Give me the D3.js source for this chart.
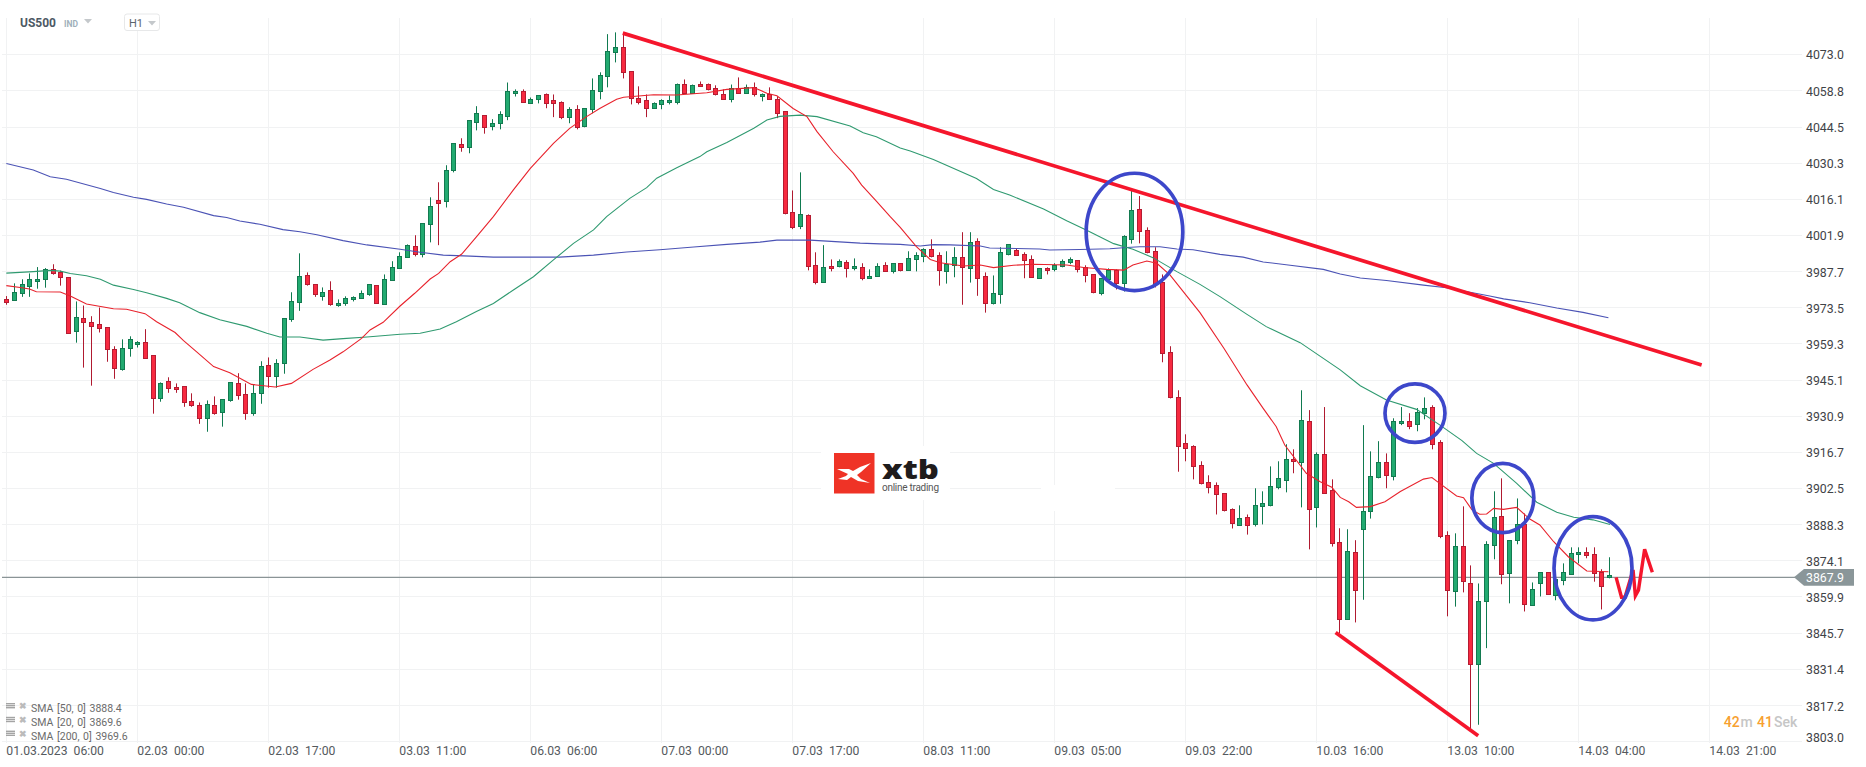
<!DOCTYPE html>
<html>
<head>
<meta charset="utf-8">
<style>
html,body{margin:0;padding:0;background:#fff;overflow:hidden}
svg{display:block}
text{font-family:Roboto,sans-serif}
</style>
<script src="https://cdn.jsdelivr.net/npm/d3@7/dist/d3.min.js"></script>
</head>
<body>
<svg id="chart" width="1866" height="767"></svg>
<script>
const priceTicks = [4073.0,4058.8,4044.5,4030.3,4016.1,4001.9,3987.7,3973.5,3959.3,3945.1,3930.9,3916.7,3902.5,3888.3,3874.1,3859.9,3845.7,3831.4,3817.2,3803.0];
const timeTicks = [0,17,34,51,68,85,102,119,136,153,170,187,204,221];
const timeLabels = ["01.03.2023  06:00","02.03  00:00","02.03  17:00","03.03  11:00","06.03  06:00","07.03  00:00","07.03  17:00","08.03  11:00","09.03  05:00","09.03  22:00","10.03  16:00","13.03  10:00","14.03  04:00","14.03  21:00"];
const symbolName = "US500";
const symbolClass = "IND";
const timeframe = "H1";
const lastPrice = 3867.9;
const smaLabels = ["SMA [50, 0] 3888.4","SMA [20, 0] 3869.6","SMA [200, 0] 3969.6"];

const opens = [
3976.7,3976.2,3979.2,3982.0,3983.9,3984.5,3988.4,3987.2,3985.2,3964.0,
3969.2,3967.6,3966.8,3965.7,3957.0,3949.0,3957.4,3959.0,3959.8,3954.6,
3937.7,3944.4,3942.0,3942.4,3936.5,3935.3,3930.1,3935.3,3932.1,3936.8,
3943.6,3939.3,3931.7,3939.5,3950.7,3946.2,3951.5,3968.6,3975.4,3986.0,
3982.5,3978.0,3980.1,3974.1,3974.9,3976.5,3977.0,3978.4,3982.1,3974.9,
3984.1,3988.8,3993.1,3997.5,3994.3,4006.1,4015.5,4015.1,4027.2,4037.5,
4036.4,4046.2,4048.9,4044.6,4045.8,4048.6,4057.5,4058.3,4054.0,4055.2,
4057.1,4054.8,4054.0,4048.2,4051.3,4044.6,4051.3,4058.3,4064.2,4073.7,
4075.6,4066.2,4055.9,4054.8,4051.7,4053.2,4054.0,4054.4,4061.4,4057.9,
4061.4,4061.4,4059.5,4057.1,4055.2,4059.5,4057.5,4059.9,4056.3,4057.1,
4055.5,4050.5,4010.9,4005.3,4009.7,3990.0,3983.3,3989.6,3989.6,3991.2,
3988.8,3989.2,3984.8,3985.6,3990.0,3987.6,3990.8,3988.0,3992.3,3993.5,
3996.3,3993.9,3987.6,3990.0,3993.1,3988.8,3999.4,3985.6,3975.0,3978.6,
3994.3,3995.9,3994.3,3992.3,3984.9,3988.8,3988.4,3989.6,3991.2,3991.9,
3989.2,3986.4,3979.0,3984.5,3988.0,3982.9,4000.6,4012.3,4003.8,3995.5,
3983.3,3955.8,3938.1,3920.1,3918.9,3911.4,3904.7,3903.5,3900.4,3894.1,
3888.2,3891.3,3888.2,3895.3,3895.7,3902.7,3905.5,3913.8,3913.0,3929.0,
3894.9,3915.8,3901.6,3881.2,3850.9,3877.3,3886.3,3893.3,3906.7,3912.6,
3907.1,3928.0,3929.0,3927.6,3931.8,3934.2,3920.5,3884.0,3861.9,3879.6,
3865.0,3833.6,3858.0,3880.4,3891.7,3869.0,3882.0,3888.2,3856.4,3865.1,
3869.4,3860.3,3866.2,3868.6,3876.5,3877.3,3876.5,3869.4,3867.4];
const closes = [
3975.7,3979.4,3982.8,3984.8,3984.8,3988.4,3986.7,3985.2,3963.3,3969.6,
3967.5,3966.1,3965.1,3957.0,3949.4,3957.4,3960.9,3959.8,3953.7,3937.7,
3943.6,3941.6,3941.2,3936.1,3934.8,3930.1,3935.7,3932.1,3937.3,3944.0,
3938.8,3931.7,3939.7,3950.3,3946.2,3951.5,3969.2,3975.8,3985.6,3982.4,
3978.4,3979.7,3974.5,3975.0,3977.0,3977.4,3979.0,3982.5,3974.9,3984.8,
3989.2,3993.5,3997.9,3994.3,4006.5,4013.1,4014.3,4027.3,4037.9,4036.4,
4047.0,4049.7,4044.2,4045.8,4049.3,4058.3,4058.3,4054.0,4055.5,4056.7,
4053.6,4053.6,4048.2,4051.3,4044.2,4051.7,4058.7,4064.6,4074.1,4075.6,
4065.8,4055.5,4054.4,4051.7,4053.6,4054.8,4054.8,4061.4,4057.9,4061.0,
4060.7,4059.5,4057.1,4055.2,4059.5,4057.5,4059.9,4057.1,4057.1,4055.2,
4050.1,4010.4,4004.9,4010.0,3989.6,3983.2,3989.2,3988.8,3991.6,3988.8,
3989.6,3984.8,3985.6,3989.6,3987.6,3990.8,3988.0,3992.7,3993.9,3996.3,
3993.5,3988.0,3990.4,3993.1,3989.2,3999.0,3984.9,3975.0,3979.0,3995.1,
3998.2,3993.9,3991.9,3985.3,3988.8,3988.0,3990.0,3991.6,3992.3,3988.4,
3986.0,3979.4,3984.9,3988.0,3982.9,4001.4,4011.9,4003.8,3995.1,3982.5,
3955.4,3938.1,3918.9,3918.1,3911.0,3904.3,3902.8,3900.0,3893.7,3888.6,
3890.9,3888.2,3895.7,3896.5,3903.1,3906.3,3913.8,3913.0,3929.4,3894.5,
3915.8,3900.4,3880.8,3850.9,3877.7,3862.3,3893.3,3907.1,3912.6,3907.5,
3928.7,3928.7,3927.2,3932.2,3933.8,3919.7,3883.6,3862.3,3879.6,3865.8,
3833.2,3858.3,3880.4,3891.3,3869.0,3882.0,3888.2,3856.8,3862.7,3869.4,
3860.7,3866.6,3869.4,3876.9,3877.3,3876.1,3869.0,3863.9,3868.2];
const highs = [
3977.9,3982.9,3984.5,3986.8,3989.3,3988.9,3990.4,3987.9,3985.2,3975.8,
3974.2,3970.0,3973.4,3965.7,3958.2,3960.9,3962.1,3960.2,3964.9,3954.6,
3944.0,3946.0,3943.6,3942.4,3939.7,3936.1,3936.9,3938.5,3937.3,3944.0,
3947.6,3943.6,3943.2,3952.3,3953.8,3953.1,3969.2,3979.4,3994.7,3987.2,
3982.5,3981.3,3983.7,3976.6,3977.8,3977.8,3980.1,3982.5,3982.1,3986.4,
3991.6,3995.1,3998.2,4001.8,4006.5,4016.7,4022.6,4029.3,4037.9,4039.9,
4047.0,4052.5,4048.9,4047.4,4050.5,4061.8,4059.1,4059.1,4055.9,4056.7,
4057.5,4057.1,4054.4,4052.1,4052.9,4051.7,4063.4,4065.8,4080.8,4081.5,
4081.1,4066.2,4060.3,4057.1,4054.0,4055.2,4056.7,4061.4,4063.0,4061.0,
4062.2,4061.4,4060.7,4059.1,4061.0,4063.8,4061.0,4061.8,4057.5,4059.9,
4056.3,4050.5,4019.4,4026.5,4010.0,3995.1,3997.9,3992.3,3992.3,3992.0,
3992.7,3990.8,3988.4,3990.8,3991.2,3990.8,3990.8,3995.5,3995.1,3996.7,
4000.2,3995.1,3995.5,3997.1,4003.0,4003.0,4000.6,3987.2,3986.0,3997.1,
3998.2,3996.7,3995.1,3993.9,3988.8,3989.2,3990.8,3992.3,3993.1,3991.9,
3990.0,3986.4,3984.9,3988.8,3988.4,4001.8,4019.5,4017.2,4004.9,3997.1,
3986.4,3958.2,3940.9,3923.6,3919.3,3913.0,3907.5,3904.7,3900.4,3894.5,
3895.7,3892.1,3902.4,3901.2,3911.0,3913.0,3919.7,3917.7,3940.9,3933.1,
3916.5,3934.3,3905.9,3886.7,3886.3,3882.0,3927.2,3916.9,3920.9,3916.1,
3929.9,3934.3,3931.9,3933.9,3938.1,3935.0,3921.3,3885.5,3884.7,3895.3,
3872.1,3865.0,3881.6,3901.2,3906.3,3882.0,3898.4,3892.5,3865.4,3869.4,
3869.4,3866.6,3872.9,3879.2,3879.2,3879.2,3879.2,3870.6,3875.3];
const lows = [
3974.5,3976.2,3977.6,3977.6,3980.8,3981.2,3986.3,3982.0,3963.3,3959.6,
3949.8,3942.7,3963.6,3952.1,3945.4,3948.6,3954.1,3957.7,3953.7,3931.7,
3936.4,3939.9,3939.9,3934.4,3934.4,3927.7,3924.6,3931.3,3926.6,3936.4,
3937.2,3929.3,3930.9,3935.6,3941.9,3941.9,3947.4,3967.8,3972.1,3982.0,
3977.6,3976.1,3974.1,3973.7,3974.1,3975.8,3976.9,3978.0,3974.9,3974.9,
3984.1,3988.8,3993.1,3993.5,3993.1,3999.0,3997.9,4012.7,4026.5,4034.6,
4034.0,4043.0,4041.7,4043.0,4043.4,4047.0,4056.3,4054.0,4053.6,4053.6,
4051.7,4048.2,4047.4,4045.8,4043.4,4044.2,4049.7,4055.2,4059.9,4069.7,
4063.4,4053.2,4053.2,4048.2,4051.7,4051.3,4053.2,4053.2,4057.6,4057.6,
4060.3,4058.7,4056.7,4055.2,4054.0,4057.5,4057.5,4056.3,4054.4,4055.2,
4047.8,4010.0,4004.2,4004.2,3988.0,3982.5,3983.3,3987.6,3989.2,3985.2,
3988.0,3984.1,3984.8,3985.6,3987.6,3986.8,3987.6,3988.0,3987.6,3991.2,
3993.1,3982.0,3982.8,3985.3,3974.5,3983.2,3978.0,3971.4,3974.6,3974.9,
3993.9,3993.9,3984.9,3985.3,3984.9,3986.4,3987.6,3989.2,3990.4,3987.2,
3983.3,3979.0,3978.2,3983.9,3980.5,3979.7,3998.5,3998.6,3994.7,3981.3,
3951.9,3937.7,3908.9,3913.0,3905.9,3903.9,3900.4,3892.1,3893.3,3886.6,
3888.2,3884.2,3887.4,3888.2,3895.3,3902.0,3900.8,3908.3,3894.9,3878.4,
3887.0,3900.4,3879.5,3845.5,3850.9,3849.7,3858.6,3890.5,3906.3,3902.4,
3905.5,3927.2,3925.6,3924.8,3929.5,3917.7,3882.8,3852.1,3855.9,3861.5,
3807.1,3809.5,3839.6,3874.5,3864.7,3857.2,3880.4,3854.0,3856.4,3859.9,
3860.7,3858.4,3864.3,3868.6,3872.9,3874.9,3865.7,3854.8,3867.0];

const sma200Bars = [0,3.5,5.7,7.8,12.2,13.9,16.5,18.2,20.8,23.0,26.9,28.6,30.3,32.9,35.9,38.1,40.3,43.7,46.8,51.1,53.7,56.7,60.2,63.2,71.8,76.2,80.5,84.8,89.2,93.5,97.8,100.0,104.3,106.5,110.8,113.4,116.0,118.6,120.3,122.5,126.4,127.6,131.1,134.1,135.4,139.3,143.2,145.4,147.1,149.7,151.9,154.0,157.5,160.5,163.1,166.6,170.9,173.1,175.7,179.1,183.9,186.9,192.5,194.3,197.7,201.2,204.6,207.9];
const sma200Values = [4030.0,4027.4,4024.8,4023.8,4020.2,4018.6,4016.7,4015.9,4014.1,4012.8,4009.5,4008.8,4007.4,4006.1,4004.0,4003.2,4002.0,3999.7,3998.0,3996.3,3995.1,3994.0,3993.6,3993.2,3993.2,3994.0,3995.2,3996.1,3997.2,3998.2,3999.1,3999.9,3999.9,3999.5,3998.7,3998.4,3998.2,3997.6,3998.1,3998.0,3997.6,3996.8,3996.6,3996.4,3996.0,3996.2,3996.5,3997.0,3997.3,3997.3,3996.4,3996.1,3994.3,3993.2,3991.3,3990.0,3988.4,3986.6,3985.0,3984.0,3982.2,3981.2,3977.9,3976.8,3975.3,3973.2,3971.5,3969.4];

const sma50Bars = [0,3.5,5.7,7.0,8.3,10.4,12.2,13.9,16.5,18.2,20.8,22.5,25.1,27.7,31.2,33.8,35.5,38.1,41.1,43.7,46.8,51.1,53.7,56.3,58.4,61.0,63.2,65.8,68.4,71.0,73.6,76.2,77.9,80.9,83.1,84.4,87.0,90.0,90.9,93.5,97.0,98.7,100.4,103.0,105.2,109.5,111.2,112.9,116.0,117.3,120.3,125.9,128.1,130.2,134.6,137.6,140.2,143.7,146.2,148.8,151.9,154.9,157.5,161.0,163.5,167.9,173.1,175.7,179.1,183.0,186.0,188.9,190.8,193.0,196.0,198.6,201.2,203.4,205.9,208.1];
const sma50Values = [3986.9,3987.5,3988.0,3987.7,3986.8,3985.9,3984.5,3982.2,3980.5,3979.2,3977.0,3975.3,3971.4,3968.6,3966.0,3963.3,3961.8,3961.8,3960.6,3961.2,3961.8,3962.9,3963.3,3965.0,3967.8,3971.8,3975.0,3980.3,3985.5,3992.1,3998.6,4003.9,4009.1,4016.3,4020.5,4024.2,4028.3,4032.7,4034.6,4038.2,4043.8,4047.1,4048.5,4049.0,4048.4,4044.7,4042.1,4040.5,4036.1,4034.9,4031.6,4024.1,4019.8,4017.6,4012.1,4007.5,4003.8,3998.5,3996.3,3993.0,3987.5,3982.5,3977.7,3970.7,3965.9,3959.6,3948.9,3942.7,3937.1,3933.4,3927.3,3921.1,3916.1,3912.2,3904.3,3896.9,3893.0,3891.0,3890.0,3888.2];

const sma20Bars = [0,1.8,3.0,3.9,7.0,8.3,10.4,13.9,15.6,18.0,19.5,21.9,23.0,24.7,26.9,29.0,31.8,34.9,37.0,39.8,42.0,43.7,46.1,47.2,48.9,51.1,53.0,55.0,56.1,57.6,59.1,61.0,63.2,65.8,68.0,71.0,73.1,75.3,77.0,79.2,80.1,84.0,87.0,90.9,93.5,97.0,98.7,100.0,102.1,103.9,105.2,107.3,109.9,111.0,112.9,114.7,116.0,118.1,119.9,121.2,124.2,126.4,128.1,130.7,133.3,137.6,139.8,142.8,145.0,146.2,148.0,149.3,151.0,154.9,158.0,161.0,163.1,164.8,165.9,168.7,170.5,172.0,173.1,174.2,175.2,177.0,178.9,180.9,183.9,185.0,186.0,188.2,189.1,190.2,191.2,192.1,193.0,194.3,196.0,197.7,199.0,200.8,202.7,205.1,207.9];
const sma20Values = [3982.0,3981.3,3980.7,3979.6,3979.5,3977.9,3974.8,3972.9,3972.7,3971.0,3967.8,3963.6,3960.4,3956.0,3950.2,3947.8,3943.2,3942.2,3943.6,3949.1,3952.8,3956.0,3961.3,3964.6,3967.6,3974.0,3979.0,3984.6,3986.8,3991.4,3994.4,4001.2,4009.1,4019.6,4028.1,4037.9,4043.8,4048.4,4051.6,4055.2,4056.0,4057.0,4056.9,4057.8,4059.1,4059.8,4057.6,4056.6,4051.6,4048.4,4042.5,4034.6,4026.1,4021.5,4015.2,4009.1,4004.9,3997.3,3992.3,3991.0,3989.7,3990.1,3989.1,3990.0,3990.4,3990.1,3989.1,3988.4,3988.1,3990.1,3991.7,3990.8,3986.2,3971.4,3957.4,3943.0,3933.8,3926.6,3919.4,3908.3,3905.0,3902.8,3898.8,3897.1,3894.9,3895.2,3897.1,3901.1,3906.0,3906.6,3904.3,3899.4,3898.7,3893.9,3892.2,3892.3,3894.5,3894.1,3894.9,3890.3,3888.0,3881.4,3875.5,3869.9,3869.6];

const trendUpperBars = [80.0,220.0];
const trendUpperPrices = [4081.2,3950.8];
const trendLowerBars = [172.5,191.0];
const trendLowerPrices = [3845.7,3805.2];
const scribbleBars = [208.9,209.6,210.05,211.1,211.4,211.8,212.6,213.6];
const scribblePrices = [3867.4,3859.6,3859.6,3870.3,3860.2,3862.4,3878.4,3869.4];
const circleBars = [146.4,182.8,194.2,205.9];
const circlePrices = [4003.1,3931.9,3898.6,3871.0];
const circleBarRadii = [6.27,3.89,4.02,5.06];
const circlePriceRadii = [23.06,11.5,13.6,20.3];

const svg = d3.select("#chart");
const X0 = 6.33, BAR = 7.706;
const x = d3.scaleLinear().domain([0,221]).range([X0, X0+221*BAR]);
const y = d3.scaleLinear().domain([4073,3803]).range([54,741.3]);
const snap = v => Math.round(v)+0.5;
const gridColor = "#f1f2f3";

/* grid */
const grid = svg.append("g").attr("stroke",gridColor).attr("stroke-width",1);
grid.selectAll("line.h").data(priceTicks).join("line").attr("class","h")
  .attr("x1",2).attr("x2",1802).attr("y1",d=>snap(y(d))).attr("y2",d=>snap(y(d)));
grid.selectAll("line.v").data(timeTicks).join("line").attr("class","v")
  .attr("y1",18).attr("y2",743).attr("x1",d=>snap(x(d))).attr("x2",d=>snap(x(d)));
svg.append("rect").attr("x",821).attr("y",446).attr("width",129).attr("height",54).attr("fill","#fff");
svg.append("rect").attr("x",1041).attr("y",485).attr("width",74).attr("height",26).attr("fill","#fff");

/* logo */
const logo = svg.append("g");
logo.append("rect").attr("x",834).attr("y",453).attr("width",40.5).attr("height",40.5).attr("fill","#ef3326");
logo.append("path").attr("fill","#fff")
  .attr("d","M837 469 L849 469 L853 471 L860 467 L871 463 L861 472 L857 475 L861 479 L870 483 L858 481 L851 477 L847 480 L838 479 L846 476 L848 474 Z");
logo.append("text").attr("x",882).attr("y",479).attr("font-size",27).attr("font-weight",800)
  .attr("textLength",57).attr("lengthAdjust","spacingAndGlyphs")
  .style("font-family","'Open Sans',sans-serif").attr("fill","#1f1c1c").text("xtb");
logo.append("text").attr("x",882).attr("y",491).attr("font-size",10).attr("textLength",57)
  .attr("fill","#555").text("online trading");

/* last price line */
svg.append("line").attr("x1",2).attr("x2",1795).attr("y1",y(lastPrice)+1.2).attr("y2",y(lastPrice)+1.2)
  .attr("stroke","#8a9496").attr("stroke-width",1.2);

/* candles */
const idx = d3.range(opens.length);
const up = i => closes[i] >= opens[i];
const candle = svg.append("g");
candle.selectAll("line").data(idx).join("line")
  .attr("x1",i=>snap(x(i))).attr("x2",i=>snap(x(i)))
  .attr("y1",i=>y(highs[i])).attr("y2",i=>y(lows[i]))
  .attr("stroke",i=>up(i)?"#0f7a50":"#b01a30").attr("stroke-width",1);
candle.selectAll("rect").data(idx).join("rect")
  .attr("x",i=>snap(x(i))-2).attr("width",4)
  .attr("y",i=>Math.round(y(Math.max(opens[i],closes[i])))+0.5)
  .attr("height",i=>Math.max(1,Math.round(Math.abs(y(opens[i])-y(closes[i])))))
  .attr("fill",i=>up(i)?"#22aa70":"#f72a40")
  .attr("stroke",i=>up(i)?"#137a50":"#b51c32").attr("stroke-width",1);

/* moving averages */
const line = d3.line().x(d=>x(d[0])).y(d=>y(d[1]));
[[sma200Bars,sma200Values,"#4b53b5"],[sma50Bars,sma50Values,"#2f9a70"],[sma20Bars,sma20Values,"#e8222c"]]
.forEach(([b,v,c])=>{
  svg.append("path").attr("fill","none").attr("stroke",c).attr("stroke-width",1.1)
    .attr("d",line(d3.zip(b,v)));
});

/* drawn annotations */
[[trendUpperBars,trendUpperPrices],[trendLowerBars,trendLowerPrices]].forEach(([b,v])=>{
  svg.append("path").attr("fill","none").attr("stroke","#f5162c").attr("stroke-width",3.7)
    .attr("d",line(d3.zip(b,v)));
});
svg.append("path").attr("fill","none").attr("stroke","#f5162c").attr("stroke-width",3.4)
  .attr("stroke-linejoin","miter")
  .attr("d",line(d3.zip(scribbleBars,scribblePrices)));
svg.selectAll("ellipse").data(circleBars).join("ellipse")
  .attr("cx",d=>x(d)).attr("cy",(d,i)=>y(circlePrices[i]))
  .attr("rx",(d,i)=>x(d+circleBarRadii[i])-x(d))
  .attr("ry",(d,i)=>y(circlePrices[i]-circlePriceRadii[i])-y(circlePrices[i]))
  .attr("fill","none").attr("stroke","#3d47ca").attr("stroke-width",3.7);

/* price labels */
svg.selectAll("text.py").data(priceTicks).join("text").attr("class","py")
  .attr("x",1806).attr("y",(d,i)=> i===priceTicks.length-1 ? y(d)+0.8 : y(d)+5.4)
  .attr("font-size",12.3).attr("fill","#3f4347").text(d=>d.toFixed(1));

/* time labels */
svg.selectAll("text.tx").data(timeTicks).join("text").attr("class","tx")
  .attr("x",d=>x(d)).attr("y",755).attr("font-size",12.2).attr("fill","#555a5e")
  .style("white-space","pre").text((d,i)=>timeLabels[i]);

/* last price tag */
svg.append("path").attr("fill","#8a9699").attr("d","M1794 577.3 L1804 569 L1854 569 L1854 585.7 L1804 585.7 Z");
svg.append("text").attr("x",1806).attr("y",582).attr("font-size",12.3).attr("fill","#fff").text(lastPrice.toFixed(1));

/* legend */
smaLabels.forEach((t,i)=>{
  const cy = 708+i*13.8;
  const g = svg.append("g");
  [-4,-2,0].forEach(o=>g.append("rect").attr("x",6).attr("y",cy+o-1).attr("width",9).attr("height",1.4).attr("fill","#a4a4a4"));
  g.append("text").attr("x",19).attr("y",cy+1).attr("font-size",9).attr("fill","#bbb").attr("font-weight",700).text("✖");
  g.append("text").attr("x",31).attr("y",cy+4).attr("font-size",10.5).attr("fill","#6b6b6b").style("word-spacing","1px").text(t);
});

/* header */
svg.append("text").attr("x",20).attr("y",27).attr("font-size",12).attr("font-weight",700).attr("fill","#4d5964").text(symbolName);
svg.append("text").attr("x",64).attr("y",27).attr("font-size",8.5).attr("font-weight",700).attr("fill","#9fb0ba").text(symbolClass);
svg.append("path").attr("fill","#c4c8cb").attr("d","M84 19 L92 19 L88 23.5 Z");
svg.append("rect").attr("x",124.5).attr("y",14).attr("width",35).attr("height",16.5).attr("rx",2.5).attr("fill","#fff").attr("stroke","#e7e8e9");
svg.append("text").attr("x",129).attr("y",27).attr("font-size",11).attr("fill","#5a646c").text(timeframe);
svg.append("path").attr("fill","#c4c8cb").attr("d","M148 21 L156 21 L152 25.5 Z");

/* countdown */
[["42",1723.7,"#f7a030"],["m",1740.5,"#c6c6c6"],["41",1757,"#f7a030"],["Sek",1774,"#c6c6c6"]].forEach(([t,px,c])=>{
  svg.append("text").attr("x",px).attr("y",727).attr("font-size",14).attr("font-weight",500).attr("fill",c).text(t);
});
</script>
</body>
</html>
